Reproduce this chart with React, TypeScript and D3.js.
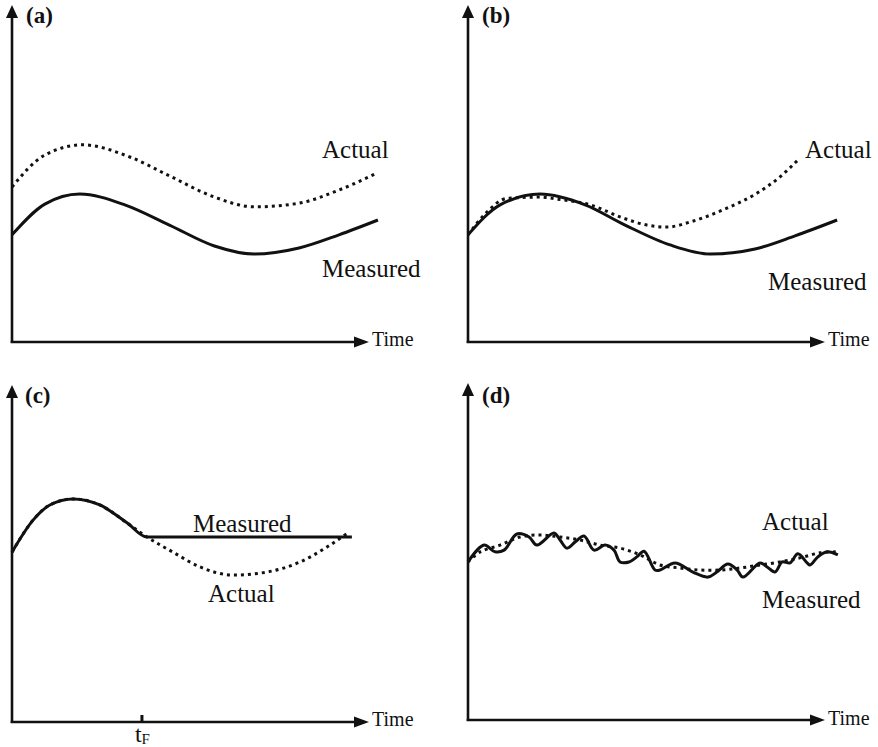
import React from "react";
import * as d3 from "d3";

// ---- data (abstract units: time 0..100 along the axis, value 0..100 up the axis) ----
type Pt = [number, number];

const panelLabels = ["(a)", "(b)", "(c)", "(d)"];
const axisLabel = "Time";
const seriesNames = ["Actual", "Measured"];
const tickLabelMain = "t";
const tickLabelSub = "F";
const tFValue = 36.4;

const aActual: Pt[] = [
  [0, 46.0], [9.2, 55.5], [19.8, 58.5], [33.0, 54.9], [44.1, 49.3],
  [56.7, 43.0], [67.9, 40.1], [80.4, 41.2], [91.6, 45.1], [102.2, 50.1],
];
const aMeasured: Pt[] = [
  [0, 31.8], [9.2, 40.9], [19.0, 43.9], [31.6, 40.7], [44.1, 34.7],
  [56.7, 28.5], [67.9, 26.1], [80.4, 27.9], [91.6, 31.8], [102.5, 36.2],
];

const bMeasured: Pt[] = [
  [0, 31.8], [9.0, 40.7], [20.2, 43.9], [32.8, 40.7], [44.0, 34.7],
  [56.6, 28.8], [67.8, 26.1], [80.4, 27.6], [91.6, 31.5], [103.4, 36.2],
];
const bActual: Pt[] = [
  [0, 31.8], [4.8, 38.0], [10.9, 42.6], [20.2, 43.0], [24.9, 42.4],
  [34.2, 40.7], [43.4, 36.8], [50.1, 34.7], [55.7, 34.1], [62.2, 35.6],
  [71.4, 39.2], [81.0, 44.2], [87.4, 49.0], [92.4, 54.0],
];

const cMeasured: Pt[] = [
  [0, 50.4], [5.9, 59.9], [10.6, 64.4], [17.1, 66.2], [24.6, 64.4],
  [32.2, 59.1], [37.8, 54.9], [95.2, 54.9],
];
const cActual: Pt[] = [
  [0, 50.4], [5.9, 59.9], [10.6, 64.4], [17.1, 66.2], [24.6, 64.4],
  [32.2, 59.1], [37.8, 54.9], [45.1, 50.4], [52.7, 46.0], [61.9, 43.6],
  [71.4, 44.5], [80.7, 47.5], [88.2, 51.9], [94.1, 56.1],
];

const dActual: Pt[] = [
  [0, 46.9], [3.4, 49.9], [9.0, 51.9], [14.6, 54.3], [20.2, 54.9],
  [25.8, 54.3], [31.4, 53.4], [37.0, 51.9], [42.6, 51.0], [48.2, 49.0],
  [53.8, 46.0], [59.4, 45.1], [65.0, 44.5], [70.6, 44.5], [76.2, 45.1],
  [81.8, 46.0], [87.4, 46.9], [93.0, 48.1], [98.6, 49.6], [103.6, 49.9],
];
const dMeasured: Pt[] = [
  [0, 46.9], [4.5, 51.9], [7.6, 49.9], [10.1, 50.4], [13.7, 55.2],
  [17.1, 54.3], [19.3, 51.9], [24.1, 55.5], [25.8, 53.4], [27.7, 51.0],
  [30.0, 52.8], [32.5, 54.6], [35.3, 50.4], [38.4, 51.9], [40.9, 50.4],
  [42.6, 46.9], [45.1, 46.9], [47.3, 48.4], [49.3, 50.1], [52.4, 44.5],
  [53.8, 44.5], [58.0, 46.6], [63.0, 43.9], [67.2, 42.4], [69.7, 43.9],
  [72.8, 46.3], [75.4, 44.5], [77.0, 42.4], [81.8, 46.6], [83.8, 45.4],
  [86.0, 43.9], [88.0, 46.9], [90.2, 46.6], [92.4, 49.3], [95.0, 46.6],
  [95.8, 46.0], [98.0, 48.4], [100.6, 49.9], [103.6, 49.0],
];

// ---- layout ----
const W = 878;
const H = 747;
const AX_W = 357;
const AX_H = 337;
const FONT = "'Liberation Serif', 'Times New Roman', serif";

const x = d3.scaleLinear().domain([0, 100]).range([0, AX_W]);
const y = d3.scaleLinear().domain([0, 100]).range([0, -AX_H]);

const lineSmooth = d3
  .line<Pt>()
  .x((d) => x(d[0]))
  .y((d) => y(d[1]))
  .curve(d3.curveCatmullRom.alpha(0.5));

const lineMono = d3
  .line<Pt>()
  .x((d) => x(d[0]))
  .y((d) => y(d[1]))
  .curve(d3.curveMonotoneX);

type Label = { text: string; dx: number; dy: number };
type Panel = {
  ox: number;
  oy: number;
  name: string;
  nameDx: number;
  nameDy: number;
  actual: Pt[];
  measured: Pt[];
  labels: Label[];
  timeDy: number;
  tF?: boolean;
  wiggly?: boolean;
};

const panels: Panel[] = [
  {
    ox: 12, oy: 342, name: panelLabels[0], nameDx: 14, nameDy: -319,
    actual: aActual, measured: aMeasured,
    labels: [
      { text: seriesNames[0], dx: 310, dy: -184 },
      { text: seriesNames[1], dx: 310, dy: -65 },
    ],
    timeDy: 4,
  },
  {
    ox: 468, oy: 342, name: panelLabels[1], nameDx: 14, nameDy: -319,
    actual: bActual, measured: bMeasured,
    labels: [
      { text: seriesNames[0], dx: 337, dy: -184 },
      { text: seriesNames[1], dx: 300, dy: -52 },
    ],
    timeDy: 4,
  },
  {
    ox: 12, oy: 722, name: panelLabels[2], nameDx: 13, nameDy: -319,
    actual: cActual, measured: cMeasured,
    labels: [
      { text: seriesNames[1], dx: 181, dy: -190 },
      { text: seriesNames[0], dx: 196, dy: -120 },
    ],
    timeDy: 4, tF: true,
  },
  {
    ox: 468, oy: 720, name: panelLabels[3], nameDx: 14, nameDy: -317,
    actual: dActual, measured: dMeasured,
    labels: [
      { text: seriesNames[0], dx: 294, dy: -190 },
      { text: seriesNames[1], dx: 294, dy: -112 },
    ],
    timeDy: 5, wiggly: true,
  },
];

function PanelView({ p }: { p: Panel }) {
  const xEnd = x(100);
  const yTop = y(100);
  const line = p.wiggly ? lineSmooth : lineMono;
  return (
    <g transform={`translate(${p.ox},${p.oy})`}>
      {/* axes */}
      <line x1={0} y1={1} x2={0} y2={yTop + 12} stroke="#111" strokeWidth={2.6} />
      <polygon
        points={`0,${yTop} ${-6},${yTop + 13} 6,${yTop + 13}`}
        fill="#111"
      />
      <line x1={-1.3} y1={0} x2={xEnd - 13} y2={0} stroke="#111" strokeWidth={2.6} />
      <polygon points={`${xEnd},0 ${xEnd - 15},-5.5 ${xEnd - 15},5.5`} fill="#111" />
      <text
        x={xEnd + 3}
        y={p.timeDy}
        fontFamily={FONT}
        fontSize={20}
        fill="#111"
      >
        {axisLabel}
      </text>
      <text
        x={p.nameDx}
        y={p.nameDy}
        fontFamily={FONT}
        fontSize={23}
        fontWeight="bold"
        fill="#111"
      >
        {p.name}
      </text>

      {/* series */}
      <path
        d={line(p.actual) || ""}
        fill="none"
        stroke="#111"
        strokeWidth={3}
        strokeDasharray="3 4"
      />
      <path d={line(p.measured) || ""} fill="none" stroke="#111" strokeWidth={3} />

      {p.labels.map((l, i) => (
        <text key={i} x={l.dx} y={l.dy} fontFamily={FONT} fontSize={25} fill="#111">
          {l.text}
        </text>
      ))}

      {p.tF && (
        <g>
          <line
            x1={x(tFValue)}
            x2={x(tFValue)}
            y1={0}
            y2={-7}
            stroke="#111"
            strokeWidth={3}
          />
          <text x={x(tFValue) - 7} y={20} fontFamily={FONT} fontSize={24} fill="#111">
            {tickLabelMain}
            <tspan fontSize={15} dy={2}>
              {tickLabelSub}
            </tspan>
          </text>
        </g>
      )}
    </g>
  );
}

export default function App() {
  return (
    <svg
      width={W}
      height={H}
      viewBox={`0 0 ${W} ${H}`}
      style={{ position: "absolute", left: 0, top: 0, background: "#fff" }}
    >
      <rect x={0} y={0} width={W} height={H} fill="#fff" />
      {panels.map((p, i) => (
        <PanelView key={i} p={p} />
      ))}
    </svg>
  );
}
